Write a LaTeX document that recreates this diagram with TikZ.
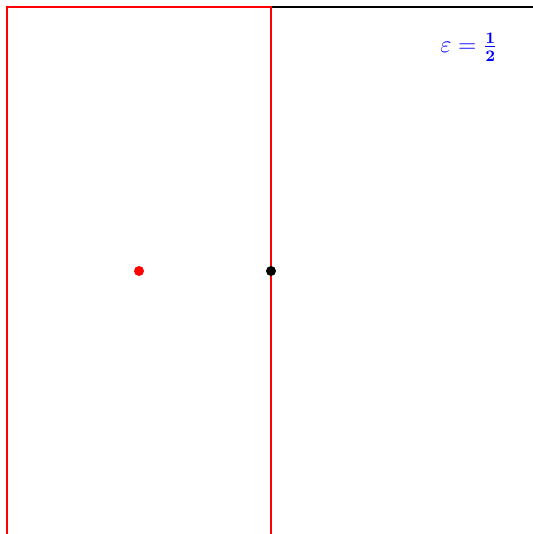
\documentclass[tikz,border=0pt]{standalone}
\usepackage{amsmath}
\begin{document}
\begin{tikzpicture}[x=0.5pt,y=-0.5pt,
  edge/.style={line width=1.1pt},
  redline/.style={draw=red,line width=1.1pt},
  dotmark/.style={circle,inner sep=0pt,minimum size=5pt},
  lbl/.style={text=blue,inner sep=0pt,font=\large}]
\useasboundingbox (0,0) rectangle (532,534);
\coordinate (topL) at (7,7);
\coordinate (topR) at (540,7);
\coordinate (rTop) at (271,7);
\coordinate (lBot) at (7,540);
\coordinate (rBot) at (271,540);
\draw[edge] (topL) -- (topR);
\draw[redline] (lBot) -- (topL) -- (rTop) -- (rBot);
\node[dotmark,fill=red] (p) at (139,271) {};
\node[dotmark,fill=black] (q) at (271,271) {};
\node[lbl] (eps) at (469,47) {$\varepsilon = \frac{\mathbf{1}}{\mathbf{2}}$};
\end{tikzpicture}
\end{document}
